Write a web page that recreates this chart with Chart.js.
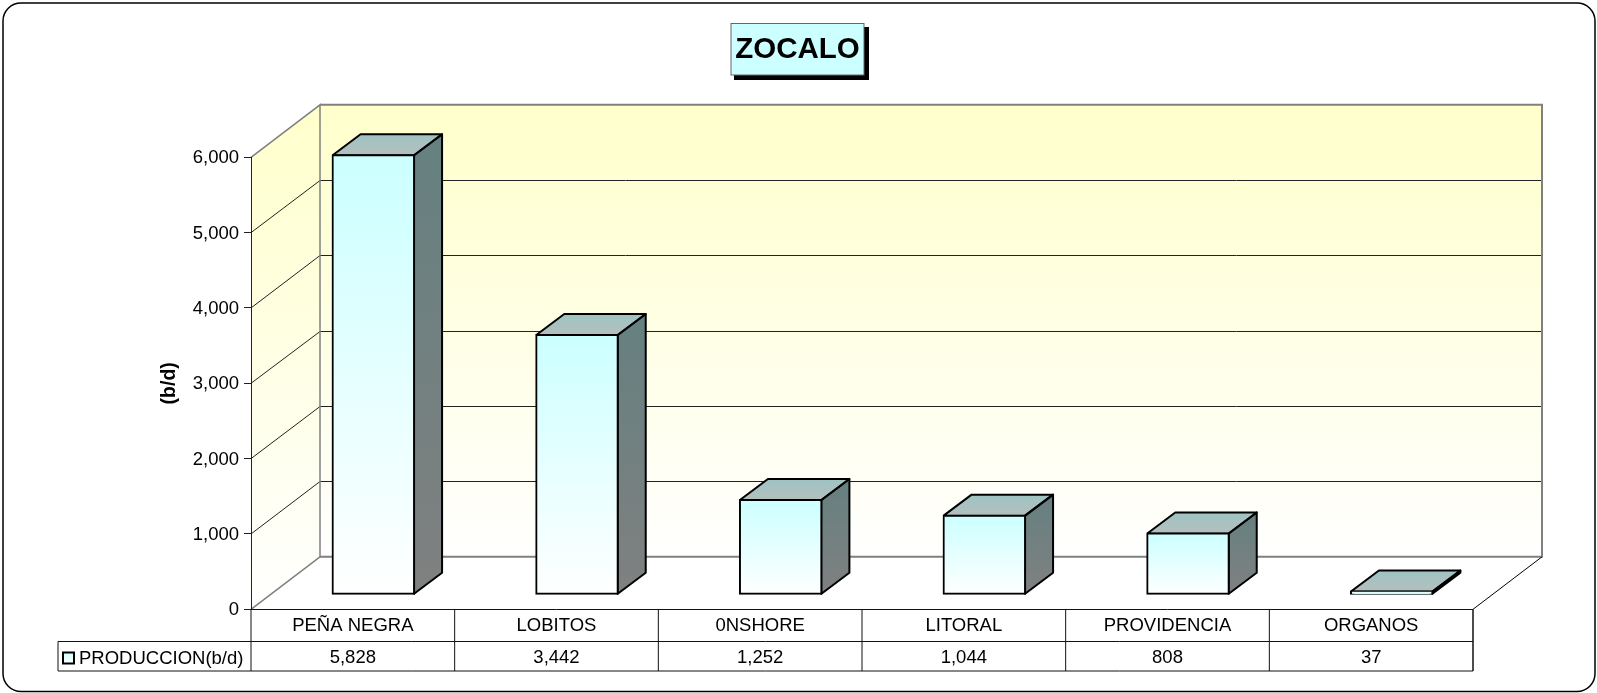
<!DOCTYPE html>
<html>
<head>
<meta charset="utf-8">
<title>ZOCALO</title>
<script src="https://cdn.jsdelivr.net/npm/chart.js@4"></script>
<style>
  html, body { margin: 0; background: #fff; }
  canvas { display: block; }
</style>
</head>
<body>
<canvas id="chart" width="1597" height="693"></canvas>
<script>
const CATEGORIES = ['PEÑA NEGRA', 'LOBITOS', '0NSHORE', 'LITORAL', 'PROVIDENCIA', 'ORGANOS'];
const PRODUCCION = [5828, 3442, 1252, 1044, 808, 37];
const SERIES_NAME = 'PRODUCCION(b/d)';
const CHART_TITLE = 'ZOCALO';
const Y_TICKS = [0, 1000, 2000, 3000, 4000, 5000, 6000];

const FONT = '"Liberation Sans", Arial, sans-serif';
const WALL = { dx: 69, dy: 52.5 };   // depth of the 3D box
const BAR_SHIFT = { dx: 20.5, dy: 15 }; // bars stand a little behind the front edge
const BAR_DEPTH = { dx: 28, dy: 21 };
const TABLE_ROW2 = 641.5, TABLE_BOTTOM = 671, TABLE_LEFT = 58;

function line(ctx, pts, color, width){
  ctx.beginPath();
  pts.forEach((p, i) => i ? ctx.lineTo(p[0], p[1]) : ctx.moveTo(p[0], p[1]));
  ctx.strokeStyle = color;
  ctx.lineWidth = width;
  ctx.stroke();
}

function poly(ctx, pts, fill){
  ctx.beginPath();
  pts.forEach((p, i) => i ? ctx.lineTo(p[0], p[1]) : ctx.moveTo(p[0], p[1]));
  ctx.closePath();
  ctx.fillStyle = fill;
  ctx.fill();
}

function vGrad(ctx, y0, y1, c0, c1){
  const g = ctx.createLinearGradient(0, y0, 0, y1);
  g.addColorStop(0, c0);
  g.addColorStop(1, c1);
  return g;
}

// frame, title box and the walls of the 3D box
const backdrop = {
  id: 'backdrop',
  beforeDraw(chart){
    const { ctx, chartArea: a, scales: { y } } = chart;
    ctx.save();
    ctx.beginPath();
    ctx.roundRect(3, 3, 1592, 688.5, 18);
    ctx.strokeStyle = '#000';
    ctx.lineWidth = 1.5;
    ctx.stroke();

    // title box with its hard shadow
    ctx.fillStyle = '#000';
    ctx.fillRect(734, 27, 135, 53);
    ctx.fillStyle = '#CCFFFF';
    ctx.fillRect(731, 23.5, 133, 51.5);
    ctx.strokeStyle = '#666';
    ctx.lineWidth = 1;
    ctx.strokeRect(731, 23.5, 133, 51.5);
    ctx.font = 'bold 29.5px ' + FONT;
    ctx.fillStyle = '#000';
    ctx.textAlign = 'center';
    ctx.textBaseline = 'middle';
    ctx.fillText(CHART_TITLE, 797.5, 50);

    const top = a.top - WALL.dy, bottom = a.bottom - WALL.dy;
    const bx = a.left + WALL.dx, brx = a.right + WALL.dx;
    poly(ctx, [[bx, top], [brx, top], [brx, bottom], [bx, bottom]], vGrad(ctx, top, bottom, '#FFFFCC', '#FFFFFF'));
    poly(ctx, [[a.left, a.top], [bx, top], [bx, bottom], [a.left, a.bottom]], vGrad(ctx, top, a.bottom, '#FFFFCC', '#FFFFFF'));

    Y_TICKS.slice(1, -1).forEach(v => {
      const py = y.getPixelForValue(v);
      const back = Math.round(py - WALL.dy) + 0.5;
      line(ctx, [[a.left, py], [bx, back], [brx, back]], '#222', 1);
    });
    line(ctx, [[a.left, a.top], [bx, top], [bx, bottom], [a.left, a.bottom]], '#808080', 1.5);
    line(ctx, [[bx, top], [brx, top], [brx, bottom], [bx, bottom]], '#808080', 2);
    line(ctx, [[brx, bottom], [a.right, a.bottom]], '#000', 1);
    ctx.restore();
  }
};

// side and top faces; the front faces are the chart's own bars, shifted back
const bars3d = {
  id: 'bars3d',
  beforeDatasetsDraw(chart){
    const { ctx } = chart;
    ctx.save();
    ctx.translate(BAR_SHIFT.dx, -BAR_SHIFT.dy);
    ctx.lineJoin = 'round';
    chart.getDatasetMeta(0).data.forEach(bar => {
      const l = bar.x - bar.width / 2, r = bar.x + bar.width / 2;
      const t = bar.y, b = bar.base;
      const dx = BAR_DEPTH.dx, dy = BAR_DEPTH.dy;
      const topFace = [[l, t], [l + dx, t - dy], [r + dx, t - dy], [r, t]];
      const sideFace = [[r, t], [r + dx, t - dy], [r + dx, b - dy], [r, b]];
      poly(ctx, topFace, vGrad(ctx, t - dy, t, '#9EC4C3', '#B3BFBE'));
      poly(ctx, sideFace, vGrad(ctx, t - dy, b, '#668080', '#808080'));
      line(ctx, [...topFace, topFace[0]], '#000', 2);
      line(ctx, [...sideFace, sideFace[0]], '#000', 2);
    });
  },
  afterDatasetsDraw(chart){
    chart.ctx.restore();
  }
};

// data table under the axis
const dataTable = {
  id: 'dataTable',
  afterDraw(chart){
    const { ctx, chartArea: a, scales: { x } } = chart;
    ctx.save();
    const color = '#111';
    const rowTop = Math.round(a.bottom) + 0.5;
    line(ctx, [[a.left, rowTop], [a.right, rowTop], [a.right, TABLE_BOTTOM]], color, 1);
    line(ctx, [[TABLE_LEFT, TABLE_ROW2], [a.right, TABLE_ROW2]], color, 1);
    line(ctx, [[TABLE_LEFT, TABLE_ROW2], [TABLE_LEFT, TABLE_BOTTOM], [a.right, TABLE_BOTTOM]], color, 1);
    line(ctx, [[a.left, rowTop], [a.left, TABLE_BOTTOM]], color, 1);
    const step = (a.right - a.left) / CATEGORIES.length;
    CATEGORIES.forEach((c, i) => {
      const right = a.left + step * (i + 1);
      line(ctx, [[right, rowTop], [right, TABLE_BOTTOM]], color, 1);
    });

    ctx.font = '18.5px ' + FONT;
    ctx.fillStyle = '#000';
    ctx.textBaseline = 'middle';
    ctx.textAlign = 'center';
    PRODUCCION.forEach((v, i) => {
      ctx.fillText(v.toLocaleString('en-US'), x.getPixelForValue(i), 658);
    });
    ctx.textAlign = 'left';
    ctx.fillText(SERIES_NAME, 79, 659);

    ctx.fillStyle = vGrad(ctx, 652, 664, '#CCFFFF', '#FFFFFF');
    ctx.fillRect(63, 652.5, 11, 11);
    ctx.strokeStyle = '#000';
    ctx.lineWidth = 2;
    ctx.strokeRect(63, 652.5, 11, 11);
    ctx.restore();
  }
};

new Chart(document.getElementById('chart'), {
  type: 'bar',
  data: {
    labels: CATEGORIES,
    datasets: [{
      label: SERIES_NAME,
      data: PRODUCCION,
      clip: false,
      borderColor: '#000',
      borderWidth: 2,
      borderSkipped: false,
      inflateAmount: 1,
      categoryPercentage: 1,
      barPercentage: 0.4,
      backgroundColor(c){
        const { chart, raw } = c;
        if(!chart.chartArea || raw === undefined) return '#CCFFFF';
        const y = chart.scales.y;
        return vGrad(chart.ctx, y.getPixelForValue(raw), y.getPixelForValue(0), '#CCFFFF', '#FFFFFF');
      }
    }]
  },
  plugins: [backdrop, bars3d, dataTable],
  options: {
    responsive: false,
    animation: false,
    font: { family: FONT },
    layout: { padding: { top: 157.3, left: 160, right: 124, bottom: 21.7 } },
    plugins: {
      legend: { display: false },
      title: { display: false },
      tooltip: { enabled: false }
    },
    scales: {
      x: {
        afterFit(s){ s.height = 62; },
        grid: { display: false },
        border: { display: false },
        ticks: {
          color: '#000',
          padding: -2,
          autoSkip: false,
          maxRotation: 0,
          font: { family: FONT, size: 18.5 }
        }
      },
      y: {
        min: 0,
        max: 6000,
        afterFit(s){ s.width = 91; },
        afterBuildTicks(s){ s.ticks = Y_TICKS.map(value => ({ value })); },
        title: {
          display: true,
          text: '(b/d)',
          color: '#000',
          font: { family: FONT, size: 19.5, weight: 'bold' },
          padding: { top: -2, bottom: 0 }
        },
        grid: { drawOnChartArea: false, color: '#222', tickLength: 7 },
        border: { color: '#222', width: 1 },
        ticks: {
          color: '#000',
          padding: 5,
          labelOffset: 1,
          font: { family: FONT, size: 18.5 },
          callback: v => v.toLocaleString('en-US')
        }
      }
    }
  }
});
</script>
</body>
</html>
